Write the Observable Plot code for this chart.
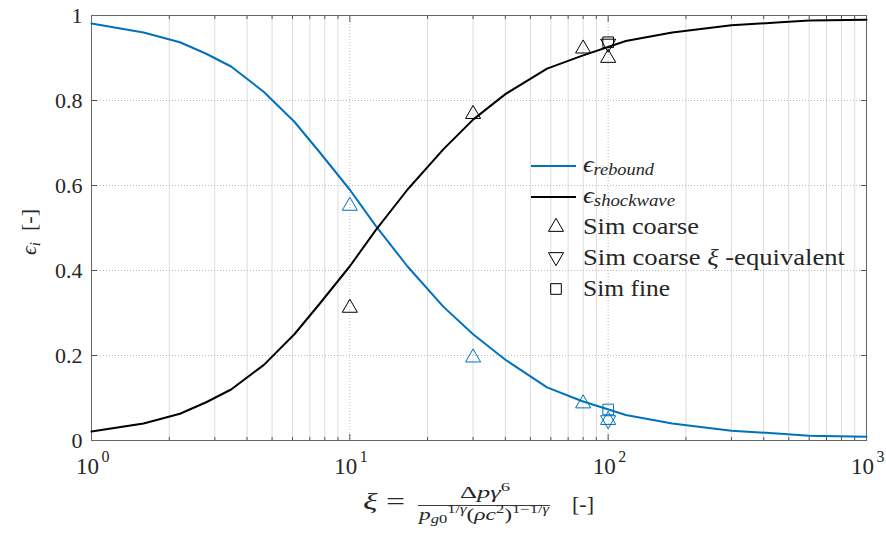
<!DOCTYPE html>
<html>
<head>
<meta charset="utf-8">
<script src="https://cdn.jsdelivr.net/npm/d3@7"></script>
<script src="https://cdn.jsdelivr.net/npm/@observablehq/plot@0.6"></script>
<style>
  html, body { margin: 0; padding: 0; background: #fff; }
</style>
</head>
<body>
<div id="chart"></div>
<script>
// ---- data ----
const xi = [1, 1.59, 2.2, 2.78, 3.47, 4.65, 6.1, 7.6, 10, 12.6, 16.7, 23, 30, 40, 58, 79, 117, 177, 300, 465, 600, 1000];
const rebound = [0.981, 0.96, 0.937, 0.91, 0.88, 0.82, 0.75, 0.68, 0.59, 0.505, 0.41, 0.315, 0.25, 0.19, 0.125, 0.093, 0.06, 0.04, 0.023, 0.016, 0.011, 0.009];
const shock = [0.021, 0.04, 0.063, 0.09, 0.12, 0.178, 0.25, 0.32, 0.41, 0.495, 0.59, 0.685, 0.755, 0.815, 0.875, 0.905, 0.94, 0.96, 0.977, 0.984, 0.988, 0.99];

const coarseX = [10, 30, 80, 100];
const coarseRebound = [0.552, 0.195, 0.087, 0.048];
const coarseShock = [0.312, 0.768, 0.922, 0.90];
const equivX = [100];
const equivRebound = [0.048];
const equivShock = [0.934];
const fineX = [100];
const fineRebound = [0.073];
const fineShock = [0.937];

const xMajorTicks = [1, 10, 100, 1000];
const xTickExp = ["0", "1", "2", "3"];
const xMinorTicks = [2,3,4,5,6,7,8,9,20,30,40,50,60,70,80,90,200,300,400,500,600,700,800,900];
const yTicks = [0, 0.2, 0.4, 0.6, 0.8, 1];
const yTickLabels = ["0", "0.2", "0.4", "0.6", "0.8", "1"];

const BLUE = "#0072BD";
const FONT = "Liberation Serif";

const curve = xi.map((x, i) => ({x, r: rebound[i], s: shock[i]}));
const pts = (xs, ys) => xs.map((x, i) => ({x, y: ys[i]}));
const none = () => "";
const tickOpts = {tickFormat: none, label: null, stroke: "#555"};

const plot = Plot.plot({
  width: 886,
  height: 533,
  marginLeft: 91,
  marginRight: 20,
  marginTop: 15,
  marginBottom: 93,
  style: {background: "#fff"},
  x: {type: "log", domain: [1, 1000], axis: null},
  y: {domain: [0, 1], axis: null},
  marks: [
    Plot.gridX(xMinorTicks, {stroke: "#dcdcdc", strokeOpacity: 1, strokeWidth: 1}),
    Plot.gridX([10, 100], {stroke: "#bbb", strokeOpacity: 1, strokeDasharray: "1,2"}),
    Plot.gridY([0.2, 0.4, 0.6, 0.8], {stroke: "#bbb", strokeOpacity: 1, strokeDasharray: "1,2"}),
    // inward ticks
    Plot.axisX({anchor: "bottom", ticks: xMajorTicks, tickSize: -6, ...tickOpts}),
    Plot.axisX({anchor: "bottom", ticks: xMinorTicks, tickSize: -3, ...tickOpts}),
    Plot.axisX({anchor: "top", ticks: xMajorTicks, tickSize: -6, ...tickOpts}),
    Plot.axisX({anchor: "top", ticks: xMinorTicks, tickSize: -3, ...tickOpts}),
    Plot.axisY({anchor: "left", ticks: yTicks, tickSize: -6, ...tickOpts}),
    Plot.axisY({anchor: "right", ticks: yTicks, tickSize: -6, ...tickOpts}),
    // y tick labels
    Plot.axisY({anchor: "left", ticks: yTicks, tickSize: 0, tickPadding: 9, label: null,
      tickFormat: (d) => yTickLabels[yTicks.indexOf(d)], fontSize: 22, fontFamily: FONT, fill: "#262626"}),
    // x tick labels 10^n
    Plot.text(xMajorTicks, {x: d => d, frameAnchor: "bottom", dy: 33, dx: -4, text: () => "10",
      fontSize: 23, fontFamily: FONT, fill: "#262626", textAnchor: "middle"}),
    Plot.text(xMajorTicks, {x: d => d, frameAnchor: "bottom", dy: 21, dx: 14, text: (d, i) => xTickExp[i],
      fontSize: 16, fontFamily: FONT, fill: "#262626", textAnchor: "middle"}),
    Plot.frame({stroke: "#666", strokeWidth: 1}),
    // curves
    Plot.line(curve, {x: "x", y: "r", stroke: BLUE, strokeWidth: 2}),
    Plot.line(curve, {x: "x", y: "s", stroke: "#000", strokeWidth: 2}),
    // simulation markers
    Plot.dot(pts(coarseX, coarseRebound), {x: "x", y: "y", symbol: "triangle", r: 5.6, stroke: BLUE, strokeWidth: 1, fill: "none"}),
    Plot.dot(pts(coarseX, coarseShock), {x: "x", y: "y", symbol: "triangle", r: 5.6, stroke: "#000", strokeWidth: 1, fill: "none"}),
    Plot.dot(pts(equivX, equivRebound), {x: "x", y: "y", symbol: "triangle", rotate: 180, r: 5.6, stroke: BLUE, strokeWidth: 1, fill: "none"}),
    Plot.dot(pts(equivX, equivShock), {x: "x", y: "y", symbol: "triangle", rotate: 180, r: 5.6, stroke: "#000", strokeWidth: 1, fill: "none"}),
    Plot.dot(pts(fineX, fineRebound), {x: "x", y: "y", symbol: "square", r: 6, stroke: BLUE, strokeWidth: 1, fill: "none"}),
    Plot.dot(pts(fineX, fineShock), {x: "x", y: "y", symbol: "square", r: 6, stroke: "#000", strokeWidth: 1, fill: "none"})
  ]
});

document.getElementById("chart").appendChild(plot);

// ---- labels & legend ----
const svg = d3.select(plot);
const fit = (sel, w) => sel.attr("textLength", w).attr("lengthAdjust", "spacingAndGlyphs");

// y label
const yl = svg.append("text")
  .attr("transform", "translate(36,232) rotate(-90)")
  .attr("text-anchor", "middle")
  .attr("font-size", 22).attr("fill", "#262626");
yl.append("tspan").attr("font-style", "italic").text("ϵ");
yl.append("tspan").attr("font-style", "italic").attr("font-size", 15).attr("dy", 4).text("i");
yl.append("tspan").attr("dy", -4).text("\u2002[-]");

// x label
const xg = svg.append("g").attr("fill", "#262626").attr("text-anchor", "start");
const xl1 = xg.append("text").attr("x", 363).attr("y", 509).attr("font-size", 23);
xl1.append("tspan").attr("font-style", "italic").text("ξ");
xl1.append("tspan").text(" =");
fit(xl1, 42);
const num = xg.append("text").attr("x", 460).attr("y", 498).attr("font-size", 17);
num.append("tspan").text("Δ");
num.append("tspan").attr("font-style", "italic").text("pγ");
num.append("tspan").attr("font-size", 12).attr("dy", -7).text("6");
fit(num, 50);
xg.append("line").attr("x1", 418).attr("x2", 550).attr("y1", 505.5).attr("y2", 505.5)
  .attr("stroke", "#262626").attr("stroke-width", 0.9);
const den = xg.append("text").attr("x", 419).attr("y", 520).attr("font-size", 17);
den.append("tspan").attr("font-style", "italic").text("p");
den.append("tspan").attr("font-size", 12).attr("dy", 3).attr("font-style", "italic").text("g");
den.append("tspan").attr("font-size", 12).text("0");
den.append("tspan").attr("font-size", 12).attr("dy", -10).text("1/");
den.append("tspan").attr("font-size", 12).attr("font-style", "italic").text("γ");
den.append("tspan").attr("dy", 7).text("(");
den.append("tspan").attr("font-style", "italic").text("ρc");
den.append("tspan").attr("font-size", 12).attr("dy", -7).text("2");
den.append("tspan").attr("dy", 7).text(")");
den.append("tspan").attr("font-size", 12).attr("dy", -7).text("1−1/");
den.append("tspan").attr("font-size", 12).attr("font-style", "italic").text("γ");
fit(den, 130);
xg.append("text").attr("x", 572).attr("y", 511).attr("font-size", 22).text("[-]");

// legend
const lg = svg.append("g").attr("fill", "#262626").attr("text-anchor", "start");
lg.append("line").attr("x1", 531).attr("x2", 576).attr("y1", 166).attr("y2", 166).attr("stroke", BLUE).attr("stroke-width", 2);
lg.append("line").attr("x1", 531).attr("x2", 576).attr("y1", 197).attr("y2", 197).attr("stroke", "#000").attr("stroke-width", 2);
const t1 = lg.append("text").attr("x", 583).attr("y", 172).attr("font-size", 23);
t1.append("tspan").attr("font-style", "italic").text("ϵ");
t1.append("tspan").attr("font-style", "italic").attr("font-size", 16).attr("dy", 3).text("rebound");
fit(t1, 71);
const t2 = lg.append("text").attr("x", 583).attr("y", 203).attr("font-size", 23);
t2.append("tspan").attr("font-style", "italic").text("ϵ");
t2.append("tspan").attr("font-style", "italic").attr("font-size", 16).attr("dy", 3).text("shockwave");
fit(t2, 92);
const triPath = d3.symbol(d3.symbolTriangle, Math.PI * 5.6 * 5.6)();
const sqPath = d3.symbol(d3.symbolSquare, Math.PI * 6 * 6)();
lg.append("path").attr("d", triPath).attr("transform", "translate(556,227)").attr("fill", "none").attr("stroke", "#000");
lg.append("path").attr("d", triPath).attr("transform", "translate(556,257) rotate(180)").attr("fill", "none").attr("stroke", "#000");
lg.append("path").attr("d", sqPath).attr("transform", "translate(556,289)").attr("fill", "none").attr("stroke", "#000");
fit(lg.append("text").attr("x", 583).attr("y", 234).attr("font-size", 23).text("Sim coarse"), 116);
const t4 = lg.append("text").attr("x", 583).attr("y", 265).attr("font-size", 23);
t4.append("tspan").text("Sim coarse ");
t4.append("tspan").attr("font-style", "italic").text("ξ");
t4.append("tspan").text(" -equivalent");
fit(t4, 262);
fit(lg.append("text").attr("x", 583).attr("y", 296).attr("font-size", 23).text("Sim fine"), 87);

// serif font on every text element
plot.setAttribute("font-family", FONT);
plot.querySelectorAll("text, tspan").forEach(t => t.style.setProperty("font-family", "'" + FONT + "', serif", "important"));
</script>
</body>
</html>
